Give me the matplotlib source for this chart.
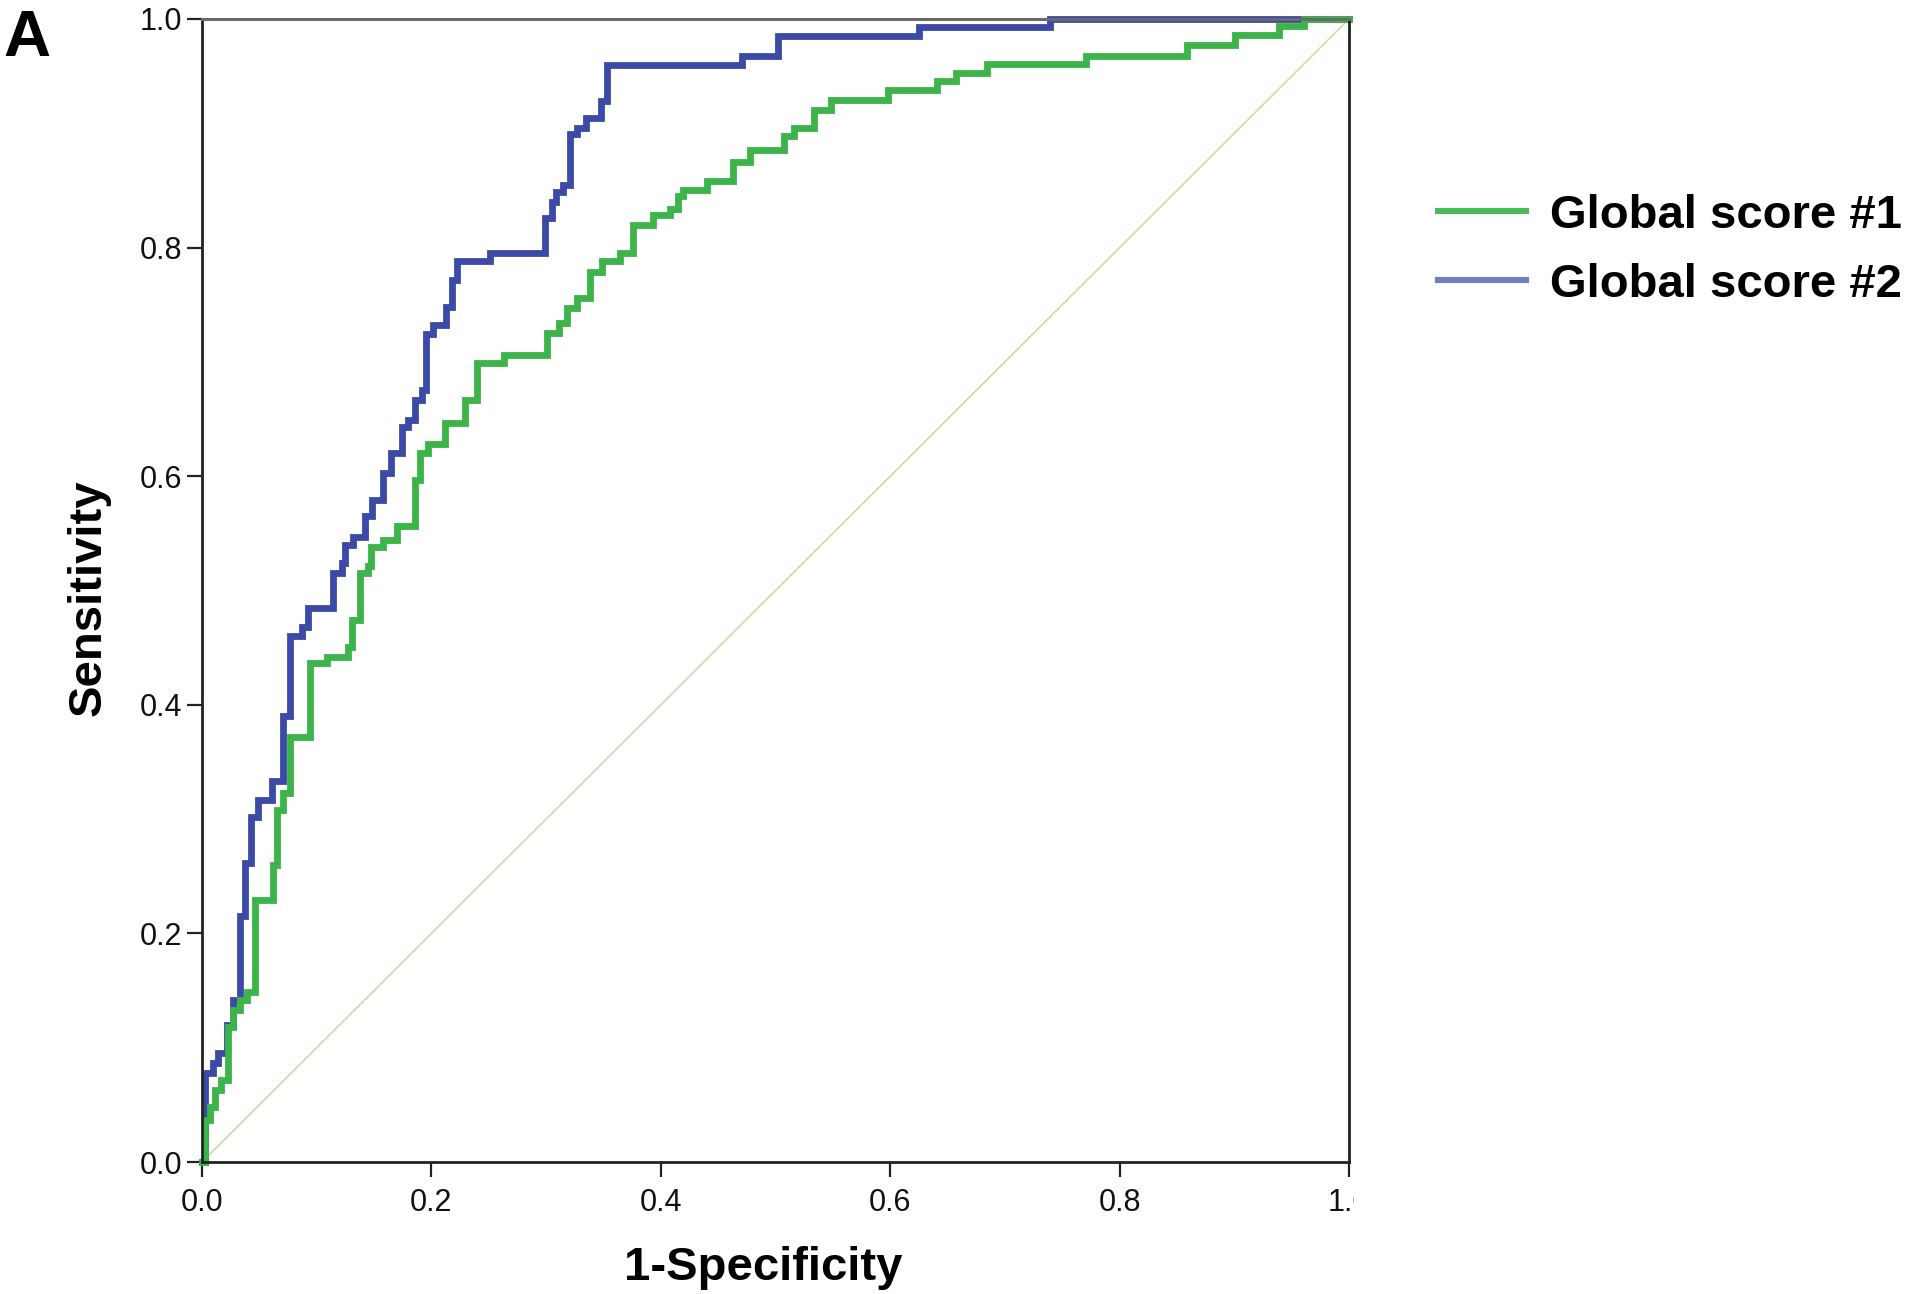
import matplotlib
matplotlib.use("Agg")
import matplotlib.pyplot as plt
from matplotlib.patches import Rectangle

# ---------------- data ----------------
series_names = ["Global score #1", "Global score #2"]

# Global score #1 (green) ROC staircase: 1-specificity, sensitivity
fpr_1 = [0.0, 0.003, 0.003, 0.007, 0.007, 0.011, 0.011, 0.017, 0.017, 0.023, 0.023,
         0.027, 0.027, 0.033, 0.033, 0.039, 0.039, 0.046, 0.046, 0.062, 0.062,
         0.065, 0.065, 0.071, 0.071, 0.077, 0.077, 0.094, 0.094, 0.109, 0.109,
         0.1276, 0.1276, 0.1305, 0.1305, 0.138, 0.138, 0.145, 0.145, 0.147, 0.147,
         0.158, 0.158, 0.170, 0.170, 0.186, 0.186, 0.190, 0.190, 0.197, 0.197,
         0.212, 0.212, 0.229, 0.229, 0.2395, 0.2395, 0.263, 0.263, 0.3005, 0.3005,
         0.311, 0.311, 0.318, 0.318, 0.327, 0.327, 0.338, 0.338, 0.3485, 0.3485,
         0.364, 0.364, 0.376, 0.376, 0.3935, 0.3935, 0.408, 0.408, 0.415, 0.415,
         0.4196, 0.4196, 0.44, 0.44, 0.463, 0.463, 0.478, 0.478, 0.507, 0.507,
         0.516, 0.516, 0.534, 0.534, 0.548, 0.548, 0.598, 0.598, 0.641, 0.641,
         0.657, 0.657, 0.684, 0.684, 0.771, 0.771, 0.859, 0.859, 0.901, 0.901,
         0.939, 0.939, 0.961, 0.961, 1.0]
tpr_1 = [0.0, 0.0, 0.037, 0.037, 0.048, 0.048, 0.063, 0.063, 0.072, 0.072, 0.118,
         0.118, 0.133, 0.133, 0.142, 0.142, 0.149, 0.149, 0.229, 0.229, 0.26,
         0.26, 0.308, 0.308, 0.323, 0.323, 0.372, 0.372, 0.4365, 0.4365, 0.442,
         0.442, 0.451, 0.451, 0.474, 0.474, 0.515, 0.515, 0.521, 0.521, 0.538,
         0.538, 0.544, 0.544, 0.556, 0.556, 0.597, 0.597, 0.620, 0.620, 0.628,
         0.628, 0.6465, 0.6465, 0.667, 0.667, 0.699, 0.699, 0.706, 0.706, 0.725,
         0.725, 0.734, 0.734, 0.747, 0.747, 0.756, 0.756, 0.779, 0.779, 0.788,
         0.788, 0.795, 0.795, 0.820, 0.820, 0.8285, 0.8285, 0.834, 0.834, 0.845,
         0.845, 0.850, 0.850, 0.858, 0.858, 0.875, 0.875, 0.885, 0.885, 0.898,
         0.898, 0.905, 0.905, 0.920, 0.920, 0.929, 0.929, 0.9375, 0.9375, 0.946,
         0.946, 0.953, 0.953, 0.961, 0.961, 0.968, 0.968, 0.977, 0.977, 0.986,
         0.986, 0.994, 0.994, 1.0, 1.0]

# Global score #2 (blue) ROC staircase
fpr_2 = [0.0, 0.003, 0.003, 0.010, 0.010, 0.014, 0.014, 0.022, 0.022, 0.027, 0.027,
         0.033, 0.033, 0.0375, 0.0375, 0.043, 0.043, 0.049, 0.049, 0.061, 0.061,
         0.071, 0.071, 0.077, 0.077, 0.087, 0.087, 0.0927, 0.0927, 0.1145, 0.1145,
         0.122, 0.122, 0.125, 0.125, 0.132, 0.132, 0.142, 0.142, 0.148, 0.148,
         0.158, 0.158, 0.165, 0.165, 0.174, 0.174, 0.180, 0.180, 0.186, 0.186,
         0.1915, 0.1915, 0.195, 0.195, 0.2015, 0.2015, 0.213, 0.213, 0.218, 0.218,
         0.222, 0.222, 0.251, 0.251, 0.299, 0.299, 0.305, 0.305, 0.309, 0.309,
         0.315, 0.315, 0.321, 0.321, 0.327, 0.327, 0.335, 0.335, 0.348, 0.348,
         0.353, 0.353, 0.471, 0.471, 0.502, 0.502, 0.625, 0.625, 0.739, 0.739, 1.0]
tpr_2 = [0.0, 0.0, 0.078, 0.078, 0.087, 0.087, 0.095, 0.095, 0.12, 0.12, 0.142,
         0.142, 0.215, 0.215, 0.262, 0.262, 0.302, 0.302, 0.317, 0.317, 0.333,
         0.333, 0.39, 0.39, 0.46, 0.46, 0.4685, 0.4685, 0.4845, 0.4845, 0.515,
         0.515, 0.524, 0.524, 0.540, 0.540, 0.547, 0.547, 0.565, 0.565, 0.579,
         0.579, 0.603, 0.603, 0.620, 0.620, 0.643, 0.643, 0.649, 0.649, 0.667,
         0.667, 0.675, 0.675, 0.724, 0.724, 0.732, 0.732, 0.748, 0.748, 0.772,
         0.772, 0.788, 0.788, 0.795, 0.795, 0.826, 0.826, 0.840, 0.840, 0.849,
         0.849, 0.855, 0.855, 0.899, 0.899, 0.905, 0.905, 0.913, 0.913, 0.928,
         0.928, 0.960, 0.960, 0.968, 0.968, 0.985, 0.985, 0.993, 0.993, 1.0, 1.0]

ref_line = [0.0, 1.0]
tick_values = [0.0, 0.2, 0.4, 0.6, 0.8, 1.0]
tick_labels = ["0.0", "0.2", "0.4", "0.6", "0.8", "1.0"]

# ---------------- style ----------------
plt.rcParams['font.family'] = ['Liberation Sans', 'DejaVu Sans']

GREEN = '#3cb44a'
BLUE = '#3b4aa6'
GREEN_LEG = '#49b95a'
BLUE_LEG = '#6f7fc2'

W, H = 1920, 1294
fig = plt.figure(figsize=(W / 100, H / 100), dpi=100)
ax = fig.add_axes([202 / W, 1 - 1162 / H, 1147 / W, 1143 / H])

ax.plot(ref_line, ref_line, color='#d8d4a4', lw=1.2, zorder=1, clip_on=False)
l2, = ax.plot(fpr_2, tpr_2, color=BLUE, lw=4.9, solid_joinstyle='miter',
              label=series_names[1], zorder=2, clip_on=False)
l1, = ax.plot(fpr_1, tpr_1, color=GREEN, lw=4.9, solid_joinstyle='miter',
              label=series_names[0], zorder=2.1, clip_on=False)

ax.set_xlim(0, 1)
ax.set_ylim(0, 1)
ax.set_xticks(tick_values)
ax.set_xticklabels(tick_labels)
ax.set_yticks(tick_values)
ax.set_yticklabels(tick_labels)
ax.tick_params(axis='both', direction='out', length=11, width=1.6,
               color='#222222', labelsize=22, labelcolor='#111111')
ax.tick_params(axis='x', pad=8)
ax.tick_params(axis='y', pad=3)

for side in ['left', 'bottom', 'right']:
    ax.spines[side].set_color('#222222')
    ax.spines[side].set_linewidth(2.0)
ax.spines['top'].set_color('#6a6a6a')
ax.spines['top'].set_linewidth(2.2)

ax.set_xlabel('1-Specificity', fontsize=34, fontweight='bold')
ax.xaxis.label.set_va('baseline')
ax.xaxis.set_label_coords(0.4895, -0.103)
ax.set_ylabel('Sensitivity', fontsize=34, fontweight='bold')
ax.yaxis.label.set_va('center')
ax.yaxis.set_label_coords(-0.099, 0.494)

leg = ax.legend(handles=[l1, l2], loc='upper left',
                bbox_to_anchor=(1438 / W, 1 - 194 / H),
                bbox_transform=fig.transFigure, frameon=False,
                prop={'size': 34, 'weight': 'bold'},
                handlelength=1.87, handletextpad=0.5, labelspacing=0.52,
                borderpad=0.0, borderaxespad=0.0)
leg.legend_handles[0].set_color(GREEN_LEG)
leg.legend_handles[1].set_color(BLUE_LEG)
for h in leg.legend_handles:
    h.set_linewidth(4.4)

# the last x tick label is cut off in the original
clip_rect = Rectangle((0, 0), 1354 / W, 1, transform=fig.transFigure)
ax.get_xticklabels()[-1].set_clip_path(clip_rect)

fig.text(3 / W, 1 - 56 / H, 'A', fontsize=47, fontweight='bold',
         ha='left', va='baseline')

fig.savefig('out.png', dpi=100, facecolor='white')
